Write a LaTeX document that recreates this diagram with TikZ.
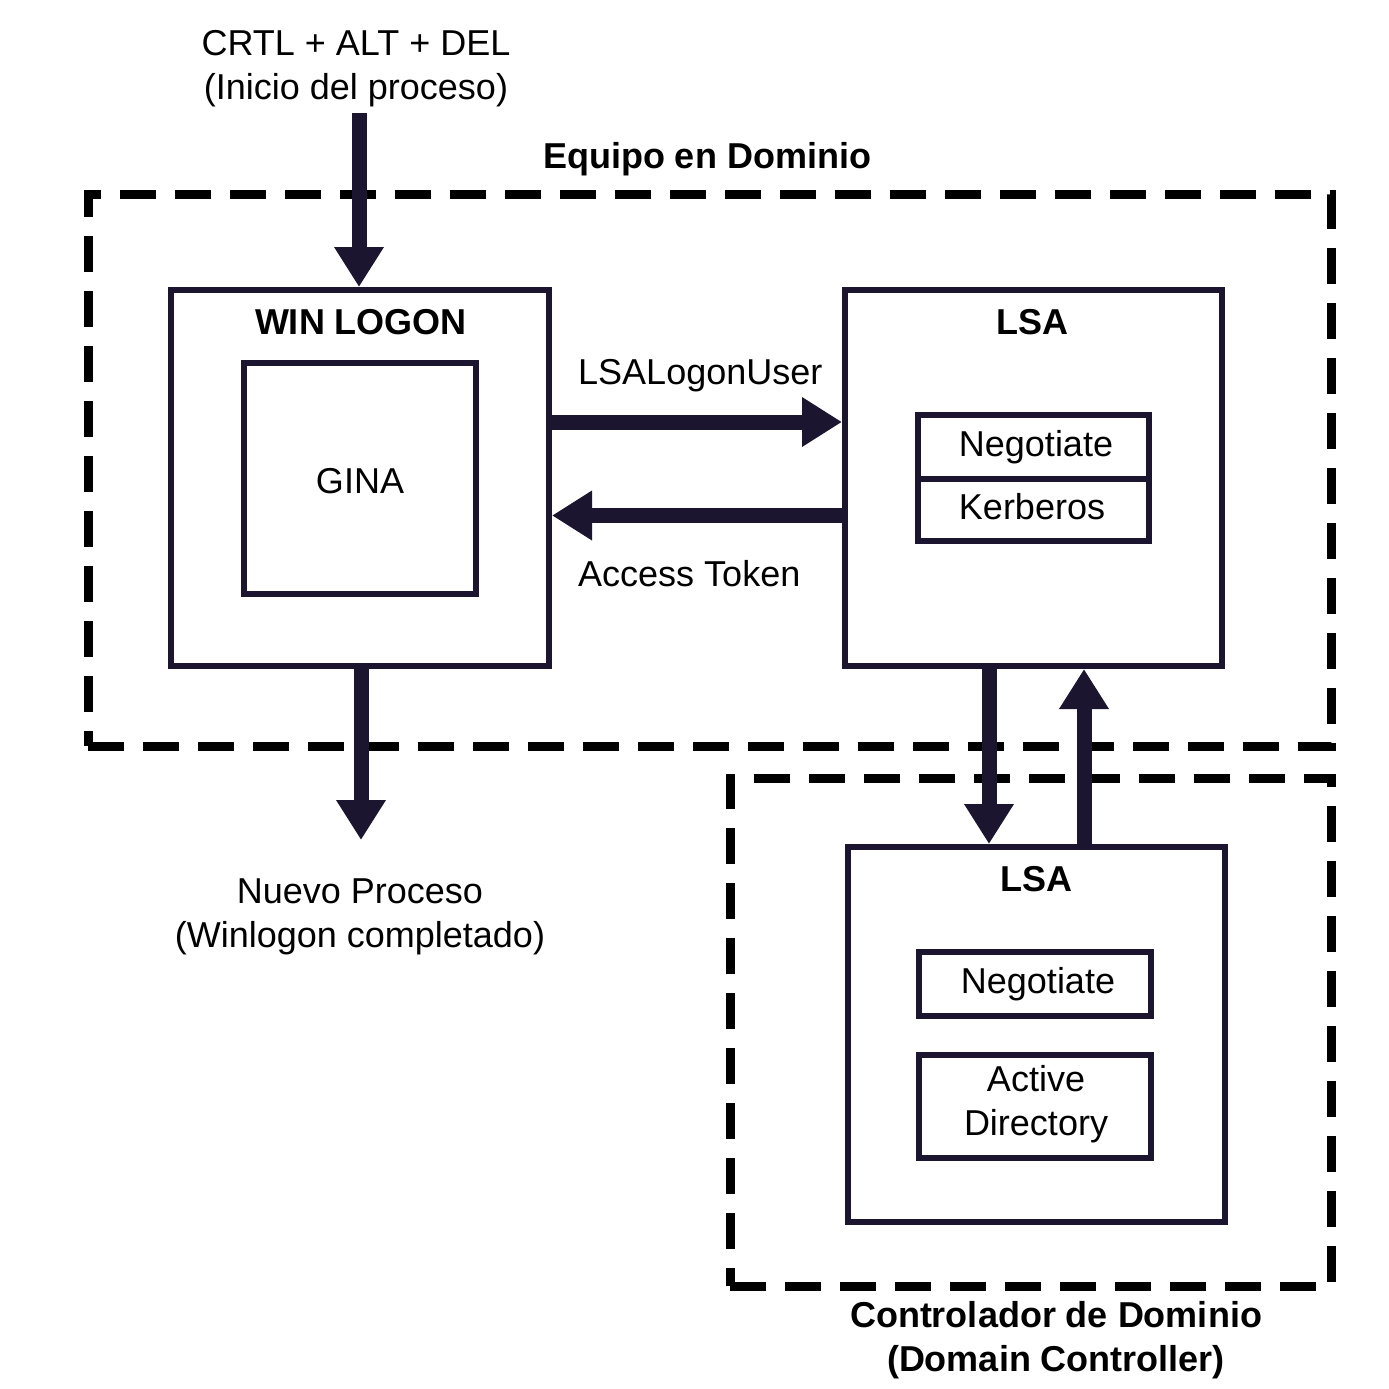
\documentclass[tikz,border=0pt]{standalone}
\usepackage{fontspec}
\setmainfont{Liberation Sans}
\usetikzlibrary{arrows.meta}
\definecolor{navy}{RGB}{27,21,48}
\tikzset{
  box/.style={draw=navy, line width=6pt, inner sep=0pt, fill=white},
  dbox/.style={draw=black, line width=9pt, dash pattern=on 36pt off 19pt, inner sep=0pt},
  txt/.style={inner sep=0pt, font=\fontsize{36}{44}\selectfont, align=center},
  btxt/.style={inner sep=0pt, font=\fontsize{36}{44}\selectfont\bfseries, align=center},
  fat/.style={draw=navy, line width=15pt, -{Triangle[length=40pt,width=47pt]}, color=navy},
}
\begin{document}
\begin{tikzpicture}[x=1pt,y=-1pt]
\useasboundingbox (0,0) rectangle (1389,1389);
% dashed regions
\node[dbox, minimum width=1243pt, minimum height=552pt] (equipo) at (709.5,470) {};
\node[dbox, minimum width=601pt, minimum height=508pt] (dc) at (1030.5,1032) {};
\node[btxt] (equipolbl) at (707,159) {Equipo en Dominio};
\node[btxt] (dclbl) at (1056,1340) {Controlador de Dominio\\(Domain Controller)};
% boxes
\node[box, minimum width=378pt, minimum height=376pt] (winlogon) at (360,478) {};
\node[btxt] (winlogonlbl) at (361,322) {WIN LOGON};
\node[box, minimum width=232pt, minimum height=231pt] (gina) at (360,478.5) {};
\node[txt] (ginalbl) at (360,481) {GINA};
\node[box, minimum width=377pt, minimum height=376pt] (lsa) at (1033.5,478) {};
\node[btxt] (lsalbl) at (1032,322) {LSA};
\node[box, minimum width=231pt, minimum height=64pt] (nego) at (1033.5,447) {};
\node[box, minimum width=231pt, minimum height=62pt] (kerb) at (1033.5,510) {};
\node[txt] (negolbl) at (1036,447) {Negotiate};
\node[txt] (kerblbl) at (1032,507) {Kerberos};
\node[box, minimum width=377pt, minimum height=375pt] (lsadc) at (1036.5,1034.5) {};
\node[btxt] (lsadclbl) at (1036,879) {LSA};
\node[box, minimum width=232pt, minimum height=64pt] (negodc) at (1035,984) {};
\node[txt] (negodclbl) at (1038,984) {Negotiate};
\node[box, minimum width=232pt, minimum height=103pt] (ad) at (1035,1106.5) {};
\node[txt] (adlbl) at (1036,1104) {Active\\Directory};
% outside labels
\node[txt] (start) at (356,69) {CRTL + ALT + DEL\\(Inicio del proceso)};
\node[txt] (end) at (360,917) {Nuevo Proceso\\(Winlogon completado)};
\node[txt, anchor=west] (lsalogon) at (578,376) {LSALogonUser};
\node[txt, anchor=west] (token) at (578,574) {Access Token};
\coordinate (startpt) at (359,113);
\coordinate (endpt) at (361,840);
% arrows
\draw[fat] (startpt) -- (startpt |- winlogon.north);
\draw[fat] (winlogon.south -| endpt) -- (endpt);
\draw[fat] (winlogon.east |- 0,422) -- (lsa.west |- 0,422);
\draw[fat] (lsa.west |- 0,515.5) -- (winlogon.east |- 0,515.5);
\draw[fat] (lsa.south -| 989,0) -- (lsadc.north -| 989,0);
\draw[fat] (lsadc.north -| 1084,0) -- (lsa.south -| 1084,0);
\end{tikzpicture}
\end{document}
